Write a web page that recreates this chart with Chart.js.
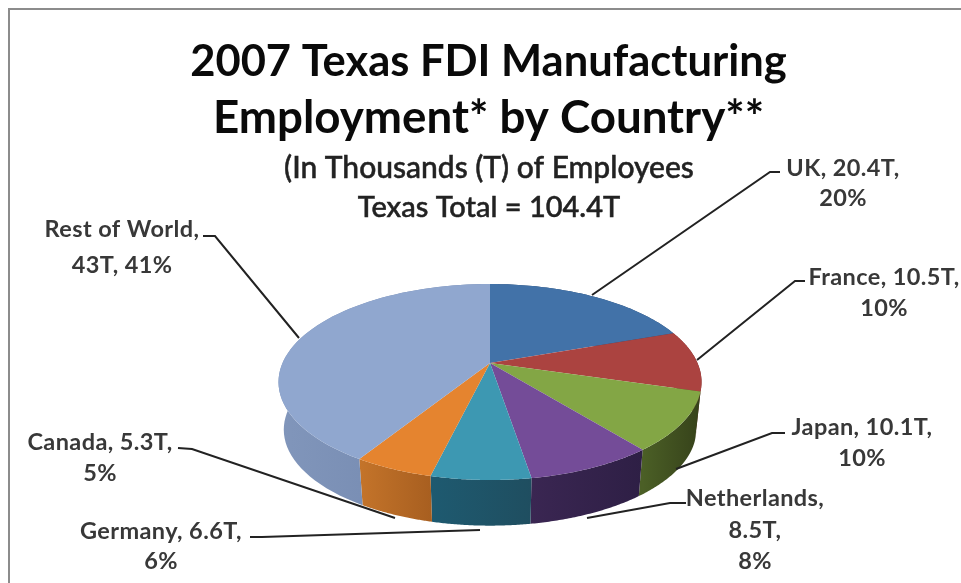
<!DOCTYPE html>
<html lang="en">
<head>
    <meta charset="UTF-8">
    <title>2007 Texas FDI Manufacturing Employment</title>
    <style>
        html, body {
            margin: 0;
            padding: 0;
            width: 961px;
            height: 583px;
            overflow: hidden;
            background-color: #ffffff;
        }
        #frame {
            position: absolute;
            left: 8px;
            top: 8px;
            width: 960px;
            height: 600px;
            border-left: 2px solid #8c8c8c;
            border-top: 2px solid #8c8c8c;
        }
        #chart {
            position: absolute;
            left: 0;
            top: 0;
            filter: blur(0.7px);
        }
    </style>
    <script src="https://cdn.jsdelivr.net/npm/chart.js"></script>
</head>
<body>
    <div id="frame"></div>
    <canvas id="chart" width="961" height="583"></canvas>

    <script>
        const countries = ['UK', 'France', 'Japan', 'Netherlands', 'Germany', 'Canada', 'Rest of World'];
        const employees = [20.4, 10.5, 10.1, 8.5, 6.6, 5.3, 43];
        const titleLine1 = '2007 Texas FDI Manufacturing';
        const titleLine2 = 'Employment* by Country**';
        const noteLines = ['(In Thousands (T) of Employees', 'Texas Total = 104.4T'];

        const topColors = ['#4272a8', '#ab4340', '#83a645', '#744c98', '#3d98b2', '#e5842f', '#90a7cf'];
        const sideStart = ['#2c4a70', '#702c2a', '#4b5f26', '#3a2652', '#1e5a70', '#c4742a', '#8196bb'];
        const sideEnd = ['#2c4a70', '#702c2a', '#36421a', '#2e1f45', '#1f4e60', '#a85f20', '#6f84ab'];

        // label text lines with their centre points
        const labelLayout = [
            { lines: ['UK, 20.4T,', '20%'], x: 843, y: [168, 198] },
            { lines: ['France, 10.5T,', '10%'], x: 884, y: [277, 308] },
            { lines: ['Japan, 10.1T,', '10%'], x: 862, y: [427, 458] },
            { lines: ['Netherlands,', '8.5T,', '8%'], x: 755, y: [498, 530, 561] },
            { lines: ['Germany, 6.6T,', '6%'], x: 161, y: [531, 561] },
            { lines: ['Canada, 5.3T,', '5%'], x: 100, y: [442, 473] },
            { lines: ['Rest of World,', '43T, 41%'], x: 122, y: [229, 265] }
        ];
        const leaders = [
            [[780, 172], [770, 172], [592, 295]],
            [[805, 281], [795, 281], [697, 360]],
            [[785, 433], [772, 433], [676, 469]],
            [[686, 503], [670, 503], [587, 518]],
            [[250, 537], [262, 537], [480, 530]],
            [[178, 448], [192, 449], [395, 518]],
            [[203, 236], [215, 236], [299, 338]]
        ];

        // perspective of the disc, tilted away from the viewer
        const pie = { cx: 490, cy: 363, bx: 207.5, by: 94.3, k: 0.194, depth: 48, lowerX: 0.975, lowerY: 0.98 };

        function project(theta, lower) {
            const u = Math.sin(theta);
            const v = Math.cos(theta);
            const w = 1 + pie.k * v;
            const sx = lower ? pie.lowerX : 1;
            const sy = lower ? pie.lowerY : 1;
            const dy = lower ? pie.depth : 0;
            return [pie.cx + sx * pie.bx * u / w, pie.cy + dy - sy * pie.by * v / w];
        }

        function edge(a0, a1, lower) {
            const pts = [];
            const n = 60;
            for (let i = 0; i <= n; i++) {
                pts.push(project(a0 + (a1 - a0) * i / n, lower));
            }
            return pts;
        }

        const piePerspective = {
            id: 'piePerspective',
            beforeDatasetsDraw(chart) {
                const ctx = chart.ctx;
                const arcs = chart.getDatasetMeta(0).data;
                const angles = arcs.map(a => [a.startAngle + Math.PI / 2, a.endAngle + Math.PI / 2]);

                // side walls first, the top disc covers the hidden part
                angles.forEach((ang, i) => {
                    const upper = edge(ang[0], ang[1], false);
                    const lower = edge(ang[1], ang[0], true);
                    const xs = upper.map(p => p[0]);
                    const grad = ctx.createLinearGradient(Math.min(...xs), 0, Math.max(...xs), 0);
                    grad.addColorStop(0, sideStart[i]);
                    grad.addColorStop(1, sideEnd[i]);
                    ctx.beginPath();
                    upper.concat(lower).forEach((p, j) => j ? ctx.lineTo(p[0], p[1]) : ctx.moveTo(p[0], p[1]));
                    ctx.closePath();
                    ctx.fillStyle = grad;
                    ctx.fill();
                });

                angles.forEach((ang, i) => {
                    ctx.beginPath();
                    ctx.moveTo(pie.cx, pie.cy);
                    edge(ang[0], ang[1], false).forEach(p => ctx.lineTo(p[0], p[1]));
                    ctx.closePath();
                    ctx.fillStyle = arcs[i].options.backgroundColor;
                    ctx.fill();
                });
                return false;
            },
            afterDraw(chart) {
                const ctx = chart.ctx;
                ctx.save();
                ctx.strokeStyle = '#222222';
                ctx.lineWidth = 2;
                leaders.forEach(line => {
                    ctx.beginPath();
                    line.forEach((p, j) => j ? ctx.lineTo(p[0], p[1]) : ctx.moveTo(p[0], p[1]));
                    ctx.stroke();
                });
                ctx.textAlign = 'center';
                ctx.textBaseline = 'middle';
                ctx.fillStyle = '#222222';
                ctx.lineWidth = 0.5;
                ctx.font = '500 30px Lato';
                ctx.fillText(noteLines[0], 489, 168);
                ctx.strokeText(noteLines[0], 489, 168);
                ctx.font = '500 29px Lato';
                ctx.fillText(noteLines[1], 489, 208);
                ctx.strokeText(noteLines[1], 489, 208);
                ctx.fillStyle = '#383838';
                ctx.font = 'bold 23.5px Lato';
                ctx.letterSpacing = '0.4px';
                labelLayout.forEach(label => {
                    label.lines.forEach((line, j) => ctx.fillText(line, label.x, label.y[j]));
                });
                ctx.restore();
            }
        };

        new Chart(document.getElementById('chart'), {
            type: 'pie',
            data: {
                labels: countries,
                datasets: [{ data: employees, backgroundColor: topColors, borderWidth: 0 }]
            },
            options: {
                responsive: false,
                animation: false,
                layout: { padding: { left: 16 } },
                plugins: {
                    legend: { display: false },
                    tooltip: { enabled: false },
                    title: {
                        display: true,
                        text: titleLine1,
                        color: '#0a0a0a',
                        font: { family: 'Lato', size: 43.5, weight: 'bold', lineHeight: 1.287 },
                        padding: { top: 34, bottom: 0 }
                    },
                    subtitle: {
                        display: true,
                        text: titleLine2,
                        color: '#0a0a0a',
                        font: { family: 'Lato', size: 45.7, weight: 'bold', lineHeight: 1.225 },
                        padding: { top: 0, bottom: 0 }
                    }
                }
            },
            plugins: [piePerspective]
        });
    </script>
</body>
</html>
